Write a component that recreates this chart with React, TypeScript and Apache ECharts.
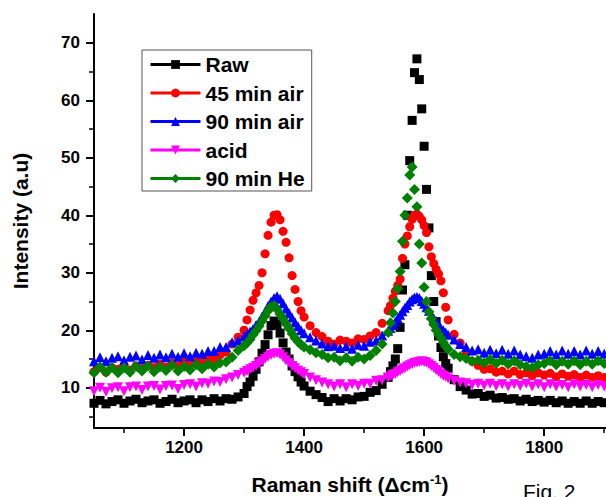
import React, { useEffect, useRef } from "react";
import * as echarts from "echarts";

// Raman shift grid (cm^-1)
const xs: number[] = [
  1050, 1060, 1070, 1080, 1090, 1100, 1110, 1120, 1130, 1140, 1150, 1160, 1170, 1180, 1190, 1200, 1210, 1220, 1230, 1240, 1250, 1260, 1270, 1280, 1290, 1300,
  1305, 1310, 1315, 1320, 1325, 1330, 1335, 1340, 1345, 1350, 1355, 1360, 1365, 1370, 1375, 1380, 1385, 1390, 1395, 1400,
  1410, 1420, 1430, 1440, 1450, 1460, 1470, 1480, 1490, 1500, 1510, 1520, 1530, 1540,
  1544, 1548, 1552, 1556, 1560, 1564, 1568, 1572, 1576, 1580, 1584, 1588, 1592, 1596, 1600, 1604, 1608, 1612, 1616, 1620, 1624, 1628, 1632, 1636, 1640,
  1650, 1660, 1670, 1680, 1690, 1700, 1710, 1720, 1730, 1740, 1750, 1760, 1770, 1780, 1790, 1800, 1810, 1820, 1830, 1840, 1850, 1860, 1870, 1880, 1890, 1900,
];

const raw: number[] = [
  7.3, 7.8, 7.2, 7.6, 7.9, 7.3, 7.7, 8.0, 7.4, 7.7, 7.9, 7.3, 7.6, 8.0, 7.4, 7.7, 7.9, 7.4, 7.9, 7.6, 8.1, 7.7, 8.1, 8.0, 8.4, 9.0,
  10.2, 11.0, 12.0, 13.2, 14.5, 16.0, 17.5, 19.2, 20.8, 21.6, 21.0, 19.5, 17.8, 16.2, 15.0, 13.8, 12.8, 11.9, 11.0, 10.3,
  9.4, 8.8, 8.3, 7.6, 8.1, 7.7, 8.1, 7.9, 8.4, 8.5, 9.2, 9.5, 10.6, 11.8,
  12.8, 13.8, 15.0, 16.8, 20.5, 27.0, 31.4, 40.0, 49.5, 56.5, 64.8, 67.2, 63.6, 58.5, 52.0, 44.5, 37.8, 29.5, 25.0, 21.5, 19.0, 17.0, 15.4, 14.2, 13.4,
  11.4, 10.2, 9.6, 8.9, 9.0, 8.5, 8.7, 8.2, 8.3, 8.0, 8.1, 7.7, 8.0, 7.6, 7.8, 7.5, 7.8, 7.4, 7.7, 7.3, 7.6, 7.3, 7.7, 7.3, 7.6, 7.4,
];

const air45: number[] = [
  12.8, 13.5, 12.7, 13.5, 13.2, 13.7, 13.1, 13.8, 13.3, 13.9, 13.5, 14.1, 13.6, 14.3, 13.8, 14.5, 14.1, 14.6, 14.4, 15.0, 15.0, 15.7, 16.2, 17.6, 18.8, 20.0,
  21.8, 23.5, 25.2, 26.5, 27.8, 30.0, 33.3, 36.5, 38.8, 40.0, 40.1, 39.2, 37.2, 35.3, 32.6, 29.5, 27.1, 25.0, 23.4, 22.3,
  20.8, 19.6, 18.9, 18.1, 17.6, 18.3, 18.1, 17.8, 18.5, 18.4, 19.0, 19.6, 21.2, 23.4,
  24.3, 25.6, 26.8, 27.8, 28.9, 32.5, 35.0, 36.4, 38.0, 39.3, 40.0, 40.2, 39.8, 39.2, 38.2, 37.0, 34.5, 32.8, 31.6, 30.6, 29.8, 28.6, 26.5, 24.0, 21.8,
  19.3, 17.8, 16.0, 14.6, 13.9, 13.2, 13.3, 12.7, 12.9, 12.4, 12.9, 12.3, 12.6, 12.1, 12.6, 12.2, 12.5, 11.9, 12.4, 12.0, 12.3, 11.8, 12.2, 11.8, 12.1, 11.8,
];

const air90: number[] = [
  14.6, 15.3, 14.6, 15.2, 15.5, 14.8, 15.4, 15.6, 14.9, 15.7, 15.2, 15.8, 15.3, 15.9, 15.4, 16.0, 15.5, 16.1, 15.9, 16.4, 16.4, 17.1, 17.1, 17.9, 18.2, 18.9,
  19.3, 19.8, 20.2, 20.9, 21.5, 22.4, 23.2, 24.2, 25.0, 25.6, 25.9, 25.5, 24.7, 23.8, 23.0, 22.2, 21.4, 20.7, 20.0, 19.5,
  18.8, 18.2, 17.7, 17.2, 17.3, 16.9, 17.2, 16.8, 17.5, 17.3, 18.0, 18.2, 19.1, 19.9,
  20.4, 20.9, 21.5, 22.1, 22.7, 23.3, 23.9, 24.4, 25.0, 25.4, 25.7, 25.8, 25.6, 25.1, 24.6, 24.0, 23.4, 22.7, 22.1, 21.6, 21.0, 20.4, 20.0, 19.6, 19.2,
  18.4, 17.6, 17.1, 16.5, 16.7, 16.1, 16.6, 16.0, 16.6, 15.9, 16.5, 15.8, 15.5, 15.2, 15.8, 15.9, 16.4, 15.8, 16.5, 15.9, 16.4, 15.8, 16.5, 15.9, 16.4, 15.9,
];

const acid: number[] = [
  9.4, 10.0, 9.3, 9.9, 10.1, 9.4, 10.1, 10.2, 9.6, 10.2, 10.3, 9.7, 10.3, 10.4, 9.8, 10.5, 10.6, 10.2, 10.8, 10.7, 11.1, 11.0, 11.5, 11.8, 12.2, 12.6,
  12.9, 13.2, 13.5, 13.8, 14.2, 14.6, 15.0, 15.4, 15.7, 15.9, 16.0, 15.8, 15.3, 14.8, 14.3, 13.8, 13.4, 13.0, 12.7, 12.4,
  11.8, 11.3, 10.9, 10.6, 10.2, 10.6, 10.1, 10.6, 10.3, 10.7, 10.7, 11.2, 11.3, 11.8,
  12.0, 12.2, 12.4, 12.7, 12.9, 13.2, 13.4, 13.7, 13.9, 14.1, 14.3, 14.4, 14.5, 14.6, 14.5, 14.4, 14.1, 13.8, 13.5, 13.1, 12.8, 12.4, 12.1, 11.9, 11.6,
  11.2, 10.9, 10.8, 10.5, 10.7, 10.4, 10.7, 10.3, 10.6, 10.2, 10.6, 10.3, 10.7, 10.2, 10.6, 10.1, 10.6, 10.2, 10.5, 10.1, 10.6, 10.2, 10.5, 10.1, 10.5, 10.2,
];

const he90: number[] = [
  12.6, 13.6, 12.7, 13.5, 12.6, 13.5, 12.7, 13.7, 12.9, 13.8, 12.8, 13.6, 13.0, 13.9, 12.9, 13.7, 13.1, 14.0, 13.3, 14.1, 13.6, 14.3, 14.5, 15.3, 16.5, 17.3,
  17.8, 18.4, 19.2, 19.9, 20.7, 21.6, 22.5, 23.4, 24.1, 24.3, 23.6, 22.8, 22.0, 21.1, 20.3, 19.4, 18.6, 18.0, 17.5, 17.1,
  16.6, 16.1, 15.8, 15.2, 15.3, 14.7, 15.2, 14.6, 15.3, 15.0, 15.6, 16.5, 17.6, 19.6,
  21.3, 23.0, 25.0, 27.2, 30.2, 35.5, 40.0, 43.0, 47.0, 48.4, 44.5, 41.5, 35.0, 31.7, 27.5, 25.0, 23.2, 22.0, 21.0, 20.0, 19.3, 18.7, 17.9, 17.2, 16.7,
  15.8, 15.4, 15.1, 14.6, 14.8, 14.3, 14.9, 14.2, 14.8, 14.1, 14.7, 14.0, 13.7, 13.5, 14.0, 14.2, 14.7, 14.0, 14.6, 14.1, 14.7, 14.0, 14.6, 14.1, 14.7, 14.2,
];

const seriesNames: string[] = ["Raw", "45 min air", "90 min air", "acid", "90 min He"];
const seriesColors: string[] = ["#000000", "#ff0000", "#0000ff", "#ff00ff", "#008000"];
const seriesSymbols: string[] = ["rect", "circle", "triangle", "path://M0,0L10,0L5,9Z", "diamond"];
const seriesSizes: number[] = [9, 9, 10, 10, 11];
const seriesValues: number[][] = [raw, air45, air90, acid, he90];

const yMajor: number[] = [10, 20, 30, 40, 50, 60, 70];
const yMinor: number[] = [5, 15, 25, 35, 45, 55, 65];
const xMajor: number[] = [1200, 1400, 1600, 1800];
const xMinor: number[] = [1100, 1300, 1500, 1700, 1900];

const FONT = "'Liberation Sans', Arial, sans-serif";

export default function App() {
  const ref = useRef<HTMLDivElement>(null);
  useEffect(() => {
    if (!ref.current) return;
    const chart = echarts.init(ref.current, undefined, { renderer: "svg" });
    const xMin = 1050;
    const xMax = 1903;
    const yMin = 3;
    const yMax = 75;
    const axisBase = {
      axisLine: { show: false },
      splitLine: { show: false },
    };
    chart.setOption({
      animation: false,
      backgroundColor: "#ffffff",
      grid: { left: 94, right: 0, top: 14, bottom: 69, containLabel: false, outerBoundsMode: "none" },
      legend: {
        orient: "vertical",
        left: 142,
        top: 50,
        data: seriesNames,
        itemWidth: 50,
        itemHeight: 11,
        itemGap: 7.5,
        padding: [4, 7, 2, 7],
        borderColor: "#555555",
        borderWidth: 1,
        backgroundColor: "#ffffff",
        lineStyle: { width: 3, opacity: 1 },
        textStyle: {
          fontFamily: FONT,
          fontWeight: "bold",
          fontSize: 21,
          lineHeight: 20,
          color: "#000000",
          padding: [0, 0, 0, 0],
        },
      },
      xAxis: [
        {
          type: "value",
          min: xMin,
          max: xMax,
          position: "bottom",
          axisLine: { show: true, lineStyle: { color: "#000", width: 2 } },
          axisTick: { show: true, length: 8, lineStyle: { color: "#000", width: 2 }, customValues: xMajor },
          axisLabel: {
            customValues: xMajor,
            formatter: (v: number) => String(v),
            margin: 11,
            fontFamily: FONT,
            fontWeight: "bold",
            fontSize: 17,
            color: "#000",
          },
          splitLine: { show: false },
          name: "{a|Raman shift (Δcm}{s|-1}{a|)}",
          nameLocation: "middle",
          nameGap: 45,
          nameTextStyle: {
            rich: {
              a: { fontFamily: FONT, fontWeight: "bold", fontSize: 21, color: "#000" },
              s: { fontFamily: FONT, fontWeight: "bold", fontSize: 13, color: "#000", padding: [0, 0, 10, 0] },
            },
          },
        },
        {
          type: "value",
          min: xMin,
          max: xMax,
          position: "bottom",
          ...axisBase,
          axisTick: { show: true, length: 5, lineStyle: { color: "#000", width: 1.5 }, customValues: xMinor },
          axisLabel: { show: false },
        },
      ],
      yAxis: [
        {
          type: "value",
          min: yMin,
          max: yMax,
          position: "left",
          axisLine: { show: true, lineStyle: { color: "#000", width: 2 } },
          axisTick: { show: true, length: 8, lineStyle: { color: "#000", width: 2 }, customValues: yMajor },
          axisLabel: {
            customValues: yMajor,
            margin: 14,
            fontFamily: FONT,
            fontWeight: "bold",
            fontSize: 17,
            color: "#000",
          },
          splitLine: { show: false },
          name: "Intensity (a.u)",
          nameLocation: "middle",
          nameGap: 63,
          nameTextStyle: { fontFamily: FONT, fontWeight: "bold", fontSize: 21, color: "#000" },
        },
        {
          type: "value",
          min: yMin,
          max: yMax,
          position: "left",
          ...axisBase,
          axisTick: { show: true, length: 5, lineStyle: { color: "#000", width: 1.5 }, customValues: yMinor },
          axisLabel: { show: false },
        },
      ],
      graphic: [
        {
          type: "text",
          left: 523,
          top: 481,
          style: { text: "Fig. 2", fontFamily: FONT, fontSize: 21, fill: "#000" },
        },
      ],
      series: seriesNames.map((name, i) => ({
        name,
        type: "line",
        xAxisIndex: 0,
        yAxisIndex: 0,
        data: xs.map((x, j) => [x, seriesValues[i][j]]),
        symbol: seriesSymbols[i],
        symbolSize: seriesSizes[i],
        showSymbol: true,
        showAllSymbol: true,
        color: seriesColors[i],
        itemStyle: { color: seriesColors[i] },
        lineStyle: { width: 0, color: seriesColors[i] },
        clip: true,
      })),
    });
    return () => chart.dispose();
  }, []);
  return (
    <div
      ref={ref}
      style={{ position: "fixed", left: 0, top: 0, width: 606, height: 497, background: "#fff" }}
    />
  );
}
